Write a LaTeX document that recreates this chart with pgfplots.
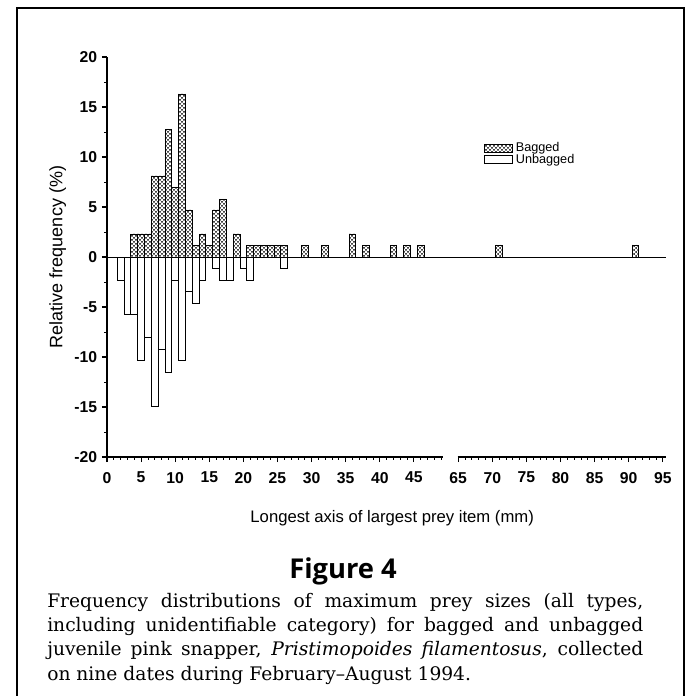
\documentclass[border=0pt]{standalone}
\usepackage{fontspec}
\setmainfont{Liberation Sans}
\newfontfamily\capfont{DejaVu Serif}
\newfontfamily\figfont{Open Sans}
\usepackage{pgfplots}
\usepackage{pgfplotstable}
\pgfplotsset{compat=1.18}
\usetikzlibrary{patterns}

\pgfdeclarepatternformonly{mydots}{\pgfpoint{-0.8pt}{-0.8pt}}{\pgfpoint{2.2pt}{2.2pt}}{\pgfpoint{3pt}{3pt}}{
  \pgfpathcircle{\pgfpoint{0pt}{0pt}}{0.75pt}
  \pgfpathcircle{\pgfpoint{1.5pt}{1.5pt}}{0.75pt}
  \pgfusepath{fill}}

% mm = prey size bin (mm), pos = position on the broken axis (mm - 13.5 beyond the break), val = %
\pgfplotstableread{
mm pos val
4 4 2.3
5 5 2.3
6 6 2.3
7 7 8.1
8 8 8.1
9 9 12.8
10 10 7.0
11 11 16.3
12 12 4.7
13 13 1.2
14 14 2.3
15 15 1.2
16 16 4.7
17 17 5.8
19 19 2.3
21 21 1.2
22 22 1.2
23 23 1.2
24 24 1.2
25 25 1.2
26 26 1.2
29 29 1.2
32 32 1.2
36 36 2.3
38 38 1.2
42 42 1.2
44 44 1.2
46 46 1.2
71 57.5 1.2
91 77.5 1.2
}\bagged

\pgfplotstableread{
mm pos val
2 2 -2.3
3 3 -5.7
4 4 -5.7
5 5 -10.3
6 6 -8.0
7 7 -14.9
8 8 -9.2
9 9 -11.5
10 10 -2.3
11 11 -10.3
12 12 -3.4
13 13 -4.6
14 14 -2.3
16 16 -1.1
17 17 -2.3
18 18 -2.3
20 20 -1.1
21 21 -2.3
26 26 -1.1
}\unbagged

\begin{document}
\begin{tikzpicture}[x=0.75pt,y=0.75pt]
\useasboundingbox (0,0) rectangle (686,696);
\draw[line width=1pt] (17,0) -- (17,688) -- (684,688) -- (684,0);

\begin{axis}[
  at={(80.25pt,179.25pt)}, anchor=south west,
  scale only axis, width=419.4pt, height=300pt,
  xmin=0, xmax=82, ymin=-20, ymax=20,
  enlargelimits=false, clip=false,
  axis y line*=left, axis x line*=bottom,
  x axis line style={draw=none},
  axis line style={line width=0.9pt},
  tick align=outside,
  major tick length=3.8pt, minor tick length=2.2pt,
  every tick/.style={black, line width=0.8pt},
  minor tick style={line width=0.6pt},
  xtick={0,5,...,45,51.5,56.5,...,81.5},
  xticklabels={0,5,10,15,20,25,30,35,40,45,65,70,75,80,85,90,95},
  minor xtick={1,...,49,52.5,53.5,...,81.5},
  ytick={-20,-15,...,20},
  yticklabels={-20,-15,-10,-5,0,5,10,15,20},
  minor ytick={-17.5,-12.5,...,17.5},
  tick label style={font=\bfseries\fontsize{11.8}{12}\selectfont},
  x tick label style={yshift=-4pt},
  xlabel={Longest axis of largest prey item (mm)},
  ylabel={Relative frequency (\%)},
  xlabel style={font=\fontsize{12.5}{13}\selectfont, at={(axis description cs:0.51,-0.152)}, anchor=center},
  ylabel style={font=\fontsize{13.5}{14}\selectfont, at={(axis description cs:-0.088,0.5)}, anchor=center, rotate=0},
  legend style={at={(0.667,0.797)}, anchor=north west, draw=none, fill=none,
    font=\fontsize{9.5}{9.5}\selectfont, row sep=-1.5pt,
    nodes={inner ysep=1pt, inner xsep=2pt}},
  legend cell align=left,
]
\addplot[ybar, bar width=1, bar shift=0pt, draw=black, line width=0.7pt,
  pattern=mydots,
  legend image code/.code={\draw[draw=black, line width=0.7pt, pattern=mydots] (0pt,-3pt) rectangle (21pt,3pt);}]
  table[x=pos, y=val]{\bagged};
\addlegendentry{Bagged}
\addplot[ybar, bar width=1, bar shift=0pt, draw=black, fill=white, line width=0.7pt,
  legend image code/.code={\draw[draw=black, line width=0.7pt, fill=white] (0pt,-3pt) rectangle (21pt,3pt);}]
  table[x=pos, y=val]{\unbagged};
\addlegendentry{Unbagged}
\draw[line width=0.7pt] (axis cs:0,0) -- (axis cs:82,0);
\draw[line width=0.9pt] (axis cs:0,-20) -- (axis cs:49.3,-20);
\draw[line width=0.9pt] (axis cs:51.4,-20) -- (axis cs:82,-20);
\end{axis}

\node[anchor=base, inner sep=0] at (343,117) {\figfont\bfseries\fontsize{20.5}{20}\selectfont Figure 4};
\begin{scope}[every node/.style={anchor=base west, inner sep=0}]
\node at (47,88) {\capfont\fontsize{14}{16}\selectfont\makebox[447pt][s]{Frequency distributions of maximum prey sizes (all types,}};
\node at (47,64) {\capfont\fontsize{14}{16}\selectfont\makebox[447pt][s]{including unidentifiable category) for bagged and unbagged}};
\node at (47,40) {\capfont\fontsize{14}{16}\selectfont\makebox[447pt][s]{juvenile pink snapper, \textit{Pristimopoides filamentosus}, collected}};
\node at (47,16) {\capfont\fontsize{14}{16}\selectfont on nine dates during February–August 1994.};
\end{scope}
\end{tikzpicture}
\end{document}
